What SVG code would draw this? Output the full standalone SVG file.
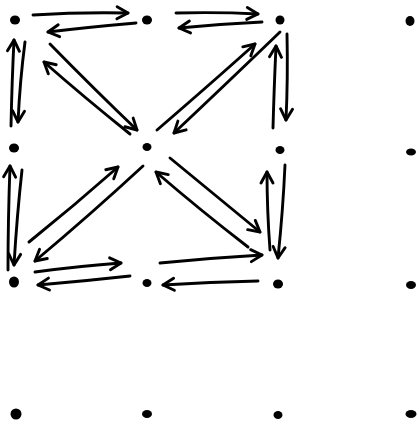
<svg xmlns="http://www.w3.org/2000/svg" width="419" height="425" viewBox="0 0 419 425">
<defs>
<style>
.dot{fill:#000}
.c{fill:none;stroke:#000;stroke-width:2.9;stroke-linecap:round;stroke-linejoin:round;marker-end:url(#ah)}
</style>
<marker id="ah" markerUnits="userSpaceOnUse" markerWidth="20" markerHeight="20" viewBox="-14 -10 18 20" refX="0" refY="0" orient="auto">
<path d="M-11,-6 L0,0 L-11,6" fill="none" stroke="#000" stroke-width="2.9" stroke-linecap="round" stroke-linejoin="round"/>
</marker>
</defs>
<rect width="419" height="425" fill="#fff"/>
<g id="connectors">
<path class="c" d="M33,15 Q80,12 128,13"/>
<path class="c" d="M136,23 Q90,27 48,32"/>
<path class="c" d="M11,126 Q12,80 14,40"/>
<path class="c" d="M25,42 Q20,80 18,122"/>
<path class="c" d="M50,44 Q95,90 137,130"/>
<path class="c" d="M130,134 Q85,98 44,62"/>
<path class="c" d="M176,13 Q220,12 258,14"/>
<path class="c" d="M262,22 Q220,24 179,28"/>
<path class="c" d="M157,130 Q215,80 255,44"/>
<path class="c" d="M280,32 Q225,85 174,133"/>
<path class="c" d="M287,34 Q288,78 286,120"/>
<path class="c" d="M273,128 Q274,90 276,46"/>
<path class="c" d="M8,270 Q8,220 10,166"/>
<path class="c" d="M22,170 Q17,215 14,265"/>
<path class="c" d="M29,242 Q75,205 118,167"/>
<path class="c" d="M143,166 Q90,215 35,261"/>
<path class="c" d="M35,272 Q80,266 121,263"/>
<path class="c" d="M130,276 Q85,281 38,285"/>
<path class="c" d="M170,158 Q215,195 260,232"/>
<path class="c" d="M248,247 Q200,210 156,172"/>
<path class="c" d="M270,250 Q267,210 267,172"/>
<path class="c" d="M285,165 Q283,210 278,258"/>
<path class="c" d="M160,263 Q210,258 262,255"/>
<path class="c" d="M258,281 Q210,282 163,285"/>
</g>
<g id="n00"><ellipse class="dot" cx="15" cy="20" rx="5" ry="4.5"/></g>
<g id="n10"><ellipse class="dot" cx="147" cy="20" rx="5" ry="4.5"/></g>
<g id="n20"><ellipse class="dot" cx="280" cy="20" rx="4.5" ry="4.5"/></g>
<g id="n30"><ellipse class="dot" cx="410" cy="21" rx="4.5" ry="5"/></g>
<g id="n01"><ellipse class="dot" cx="14" cy="148" rx="5" ry="4.5"/></g>
<g id="n11"><ellipse class="dot" cx="147" cy="147" rx="4.5" ry="4"/></g>
<g id="n21"><ellipse class="dot" cx="280" cy="150" rx="4.5" ry="4"/></g>
<g id="n31"><ellipse class="dot" cx="411" cy="152" rx="5" ry="3.5"/></g>
<g id="n02"><ellipse class="dot" cx="14" cy="282" rx="5" ry="5.5"/></g>
<g id="n12"><ellipse class="dot" cx="147" cy="283" rx="4.5" ry="4"/></g>
<g id="n22"><ellipse class="dot" cx="278" cy="284" rx="5" ry="4.5"/></g>
<g id="n32"><ellipse class="dot" cx="411" cy="285" rx="5" ry="4"/></g>
<g id="n03"><ellipse class="dot" cx="16" cy="414" rx="5.5" ry="5.5"/></g>
<g id="n13"><ellipse class="dot" cx="147" cy="414" rx="5" ry="4"/></g>
<g id="n23"><ellipse class="dot" cx="278" cy="415" rx="4.5" ry="4"/></g>
<g id="n33"><ellipse class="dot" cx="411" cy="414" rx="5.5" ry="4"/></g>
</svg>
